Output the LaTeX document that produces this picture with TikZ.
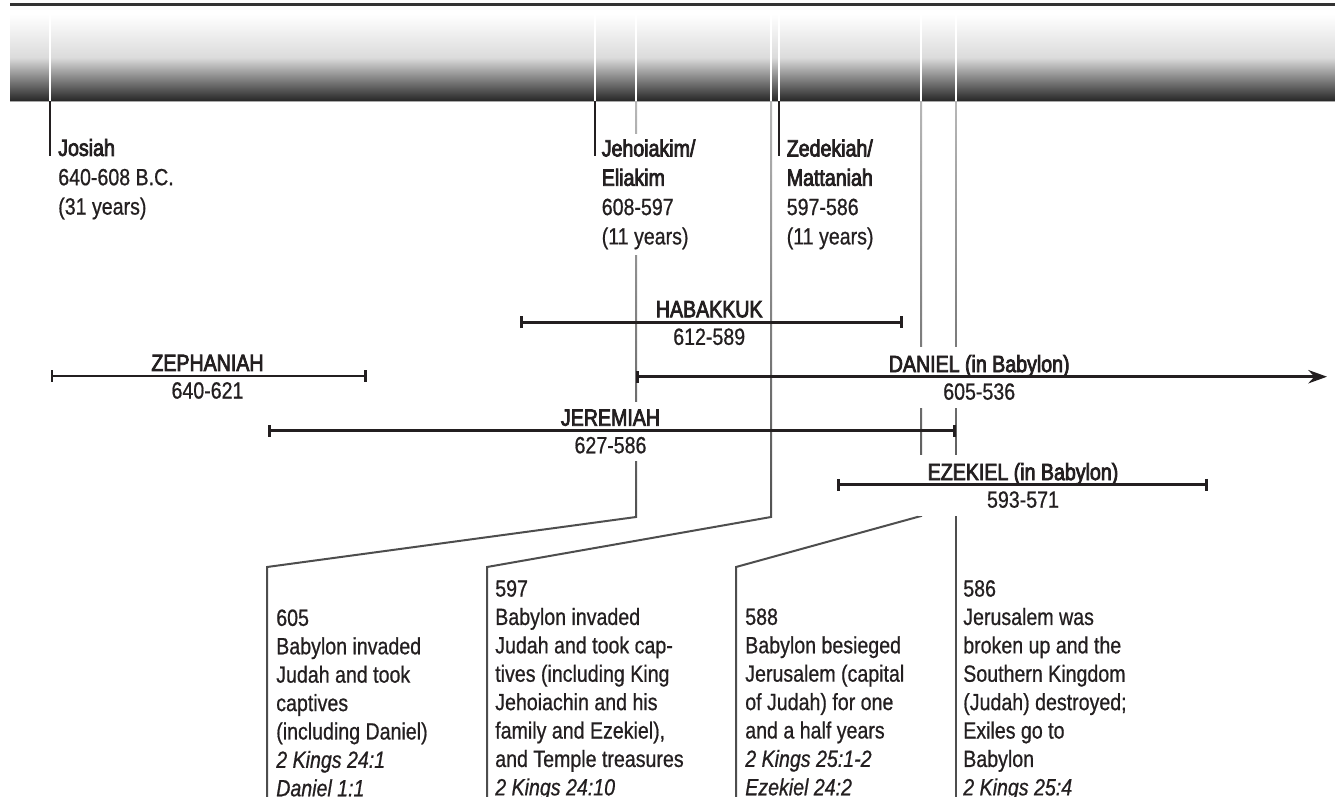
\documentclass[tikz,border=0pt]{standalone}
\usepackage{fontspec}
\setmainfont{Liberation Sans}[FakeStretch=0.835, FakeBold=0.7]
\newfontfamily\heavy{Liberation Sans}[FakeStretch=0.835, FakeBold=3.2]
\usetikzlibrary{arrows.meta,fadings}

\definecolor{ink}{HTML}{231F20}
\definecolor{linkgray}{HTML}{4D4D4D}
\definecolor{rulegray}{HTML}{333333}

\tikzfading[name=fadedown, top color=transparent!40, bottom color=transparent!100]

\tikzset{
  kinglabel/.style={anchor=north west, align=left, fill=white, inner xsep=0pt, inner ysep=4pt,
    font=\fontsize{17.6}{22}\selectfont},
  evtext/.style={anchor=north west, align=left, inner sep=0pt,
    font=\fontsize{17.6}{21.3}\selectfont},
  prophetlabel/.style={align=center, fill=white, inner xsep=1.5pt, inner ysep=6pt,
    font=\fontsize{17.6}{20.7}\selectfont},
  prophet/.style={draw=ink, line width=2pt, arrows={Bar[width=8.8pt]-Bar[width=8.8pt]}},
  eventlink/.style={draw=linkgray, line width=1.5pt},
  kingtick/.style={draw=ink, line width=1.5pt},
  bandmark/.style={draw=white, line width=1.5pt}
}

\begin{document}
\begin{tikzpicture}[x=0.75pt, y=-0.75pt, text=ink]
    \useasboundingbox (0,0) rectangle (1335,801);
    \clip (0,0) rectangle (1335,796.5);

    % Band
    \draw[rulegray, line width=2.2pt] (10,4.5) -- (1335,4.5);
    \shade[top color=white, bottom color=black!85, middle color=black!14] (10,14) rectangle (1335,101);

    % Marks on the band
    \coordinate (bandtop) at (0,14);
    \coordinate (foot) at (0,801);
    \coordinate (mJos) at (50,101);
    \coordinate (mJeh) at (594.5,101);
    \coordinate (m605) at (636,101);
    \coordinate (m597) at (771,101);
    \coordinate (mZed) at (778.5,101);
    \coordinate (m588) at (921,101);
    \coordinate (m586) at (955.5,101);
    \foreach \m in {mJos,mJeh,m605,m597,mZed,m588,m586}
        \draw[bandmark] (\m) -- (\m |- bandtop);

    % Event connectors
    \coordinate (k605) at (636,517);
    \coordinate (d605) at (267,567);
    \coordinate (k597) at (771,517);
    \coordinate (d597) at (487,567);
    \coordinate (k588) at (921,516);
    \coordinate (d588) at (736,567);
    \draw[eventlink] (m605) -- (k605) -- (d605) -- (d605 |- foot);
    \draw[eventlink] (m597) -- (k597) -- (d597) -- (d597 |- foot);
    \draw[eventlink] (m588) -- (k588) -- (d588) -- (d588 |- foot);
    \draw[eventlink] (m586) -- (m586 |- foot);
    \fill[white, path fading=fadedown] (10,101) rectangle (1335,530);

    % Kings
    \draw[kingtick] (mJos) -- ++(0,55);
    \draw[kingtick] (mJeh) -- ++(0,55);
    \draw[kingtick] (mZed) -- ++(0,55);
    \node[kinglabel] (josiah) at (58,133.3) {{\heavy Josiah}\\640-608 B.C.\\(31 years)};
    \node[kinglabel] (jehoiakim) at (601.5,133.8) {{\heavy Jehoiakim/}\\{\heavy Eliakim}\\608-597\\(11 years)};
    \node[kinglabel] (zedekiah) at (786.5,133.8) {{\heavy Zedekiah/}\\{\heavy Mattaniah}\\597-586\\(11 years)};

    % Prophets
    \node[prophetlabel] (zephL) at (207.5,376.8) {{\heavy ZEPHANIAH}\\640-621};
    \node[prophetlabel] (habL) at (709.2,323.1) {{\heavy HABAKKUK}\\612-589};
    \node[prophetlabel] (danL) at (979.2,377.5) {{\heavy DANIEL (in Babylon)}\\605-536};
    \node[prophetlabel] (jerL) at (610.5,431.5) {{\heavy JEREMIAH}\\627-586};
    \node[prophetlabel, inner xsep=7pt] (ezeL) at (1023,485.5) {{\heavy EZEKIEL (in Babylon)}\\593-571};
    \draw[prophet] (50.7,376) -- (366.7,376);
    \draw[prophet] (520,322.3) -- (903,322.3);
    \draw[prophet, arrows={Bar[width=8.8pt]-Stealth[length=14pt,width=10pt]}] (636,376.7) -- (1327,376.7);
    \draw[prophet] (268.3,430.7) -- (956,430.7);
    \draw[prophet] (837,484.7) -- (1208,484.7);

    % Events
    \node[evtext] (ev605) at (276,609.2) {605\\Babylon invaded\\Judah and took\\captives\\(including Daniel)\\\textit{2 Kings 24:1}\\\textit{Daniel 1:1}};
    \node[evtext] (ev597) at (495,579.9) {597\\Babylon invaded\\Judah and took cap-\\tives (including King\\Jehoiachin and his\\family and Ezekiel),\\and Temple treasures\\\textit{2 Kings 24:10}};
    \node[evtext] (ev588) at (745,608.2) {588\\Babylon besieged\\Jerusalem (capital\\of Judah) for one\\and a half years\\\textit{2 Kings 25:1-2}\\\textit{Ezekiel 24:2}};
    \node[evtext] (ev586) at (963,579.9) {586\\Jerusalem was\\broken up and the\\Southern Kingdom\\(Judah) destroyed;\\Exiles go to\\Babylon\\\textit{2 Kings 25:4}};
\end{tikzpicture}
\end{document}
